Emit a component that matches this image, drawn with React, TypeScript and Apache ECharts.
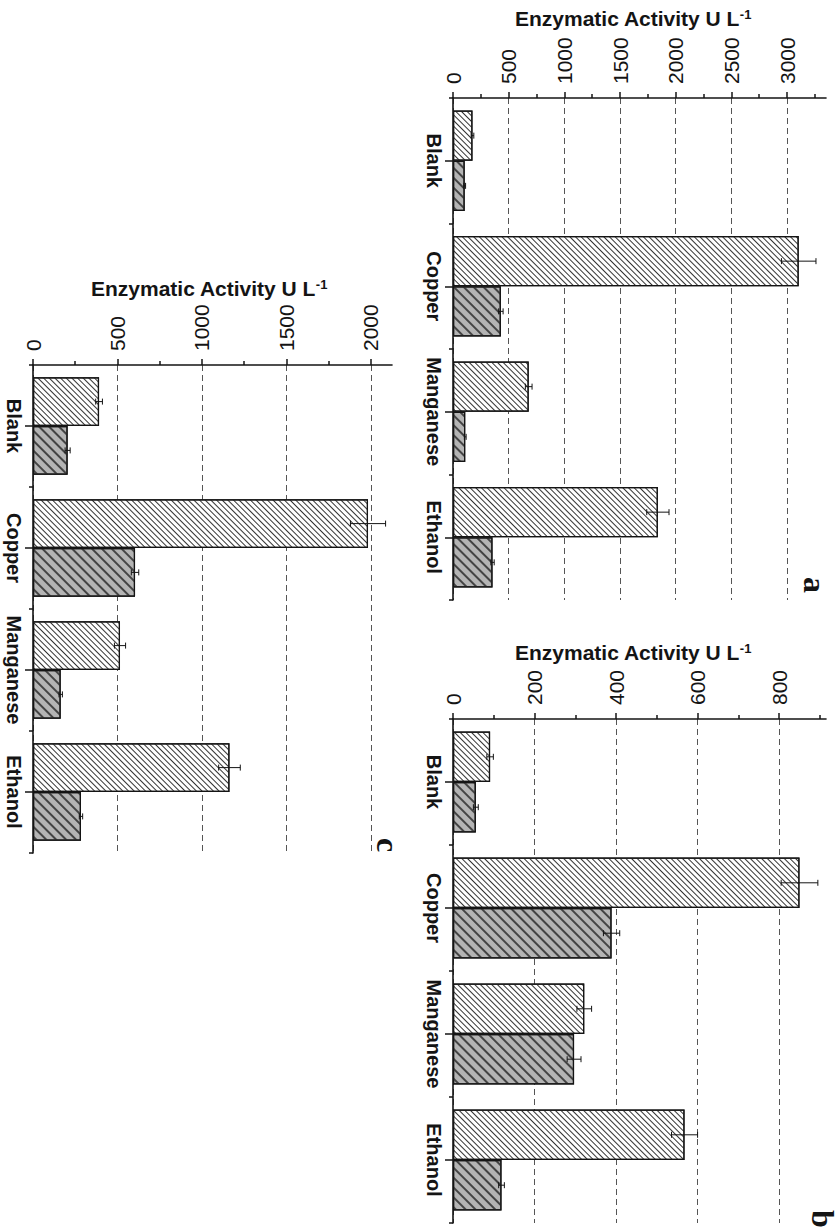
import React, { useEffect, useRef } from 'react';
import * as echarts from 'echarts';

// ---------- data ----------
const categories = ['Blank', 'Copper', 'Manganese', 'Ethanol'];

// panel a
const aLight = [175, 3105, 680, 1840];
const aLightErr = [12, 155, 30, 100];
const aDark = [105, 430, 110, 355];
const aDarkErr = [8, 20, 8, 15];
const aMajorTicks = [0, 500, 1000, 1500, 2000, 2500, 3000];
const aMinorTicks = [250, 750, 1250, 1750, 2250, 2750, 3250];

// panel b
const bLight = [91, 850, 322, 568];
const bLightErr = [8, 45, 18, 32];
const bDark = [56, 389, 297, 119];
const bDarkErr = [6, 20, 17, 7];
const bMajorTicks = [0, 200, 400, 600, 800];
const bMinorTicks = [100, 300, 500, 700, 900];

// panel c
const cLight = [391, 1983, 515, 1163];
const cLightErr = [20, 104, 33, 64];
const cDark = [205, 604, 164, 284];
const cDarkErr = [15, 22, 10, 10];
const cMajorTicks = [0, 500, 1000, 1500, 2000];
const cMinorTicks = [250, 750, 1250, 1750];

const axisTitle = 'Enzymatic Activity U L';
const axisTitleSup = '-1';

// ---------- layout ----------
const panels = [
  {
    letter: 'a', light: aLight, lightErr: aLightErr, dark: aDark, darkErr: aDarkErr,
    max: 3350, step: 500, major: aMajorTicks, minor: aMinorTicks,
    grid: { left: 453, top: 98, width: 373, height: 502 },
    titlePos: [633, 18], letterPos: [815, 585],
  },
  {
    letter: 'b', light: bLight, lightErr: bLightErr, dark: bDark, darkErr: bDarkErr,
    max: 915, step: 200, major: bMajorTicks, minor: bMinorTicks,
    grid: { left: 453, top: 719, width: 373, height: 504 },
    titlePos: [633, 652], letterPos: [823, 1219],
  },
  {
    letter: 'c', light: cLight, lightErr: cLightErr, dark: cDark, darkErr: cDarkErr,
    max: 2125, step: 500, major: cMajorTicks, minor: cMinorTicks,
    grid: { left: 33, top: 365, width: 359, height: 488 },
    titlePos: [209, 288], letterPos: [388, 845],
  },
];

const INK = '#141414';
const FONT = 'Arial, "Liberation Sans", sans-serif';

function buildOption() {
  const grid: any[] = [];
  const xAxis: any[] = [];
  const yAxis: any[] = [];
  const series: any[] = [];
  const graphic: any[] = [];

  panels.forEach((p, i) => {
    grid.push({ ...p.grid, containLabel: false });

    const xMain = xAxis.length;
    xAxis.push({
      type: 'value', gridIndex: i, position: 'top', min: 0, max: p.max, interval: p.step,
      axisLine: { show: true, lineStyle: { color: INK, width: 1.6 } },
      axisTick: { show: true, inside: false, length: 6, customValues: p.major, lineStyle: { color: INK, width: 1.5 } },
      axisLabel: {
        show: true, rotate: -90, margin: 14, customValues: p.major,
        formatter: (v: number) => String(Math.round(v)),
        color: INK, fontSize: 21, fontFamily: FONT,
      },
      splitLine: { show: true, lineStyle: { color: '#555', width: 1, type: [6, 4] } },
    });
    xAxis.push({
      type: 'value', gridIndex: i, position: 'top', min: 0, max: p.max, interval: p.step / 2,
      axisLine: { show: false },
      axisTick: { show: true, inside: false, length: 4, customValues: p.minor, lineStyle: { color: INK, width: 1.5 } },
      axisLabel: { show: false },
      splitLine: { show: false },
    });

    const yMain = yAxis.length;
    yAxis.push({
      type: 'category', gridIndex: i, data: categories, inverse: true, position: 'left',
      axisLine: { show: true, onZero: false, lineStyle: { color: INK, width: 1.6 } },
      axisTick: { show: true, alignWithLabel: true, length: 8, lineStyle: { color: INK, width: 1.5 } },
      axisLabel: {
        show: true, interval: 0, rotate: -90, margin: 9, color: INK, fontSize: 20,
        fontWeight: 'bold', fontFamily: FONT, hideOverlap: false,
      },
      splitLine: { show: false },
    });
    yAxis.push({
      type: 'category', gridIndex: i, data: categories, inverse: true, position: 'left',
      axisLine: { show: false, onZero: false },
      axisTick: { show: true, interval: 0, alignWithLabel: false, length: 4, lineStyle: { color: INK, width: 1.5 } },
      axisLabel: { show: false },
      splitLine: { show: false },
    });

    series.push({
      type: 'bar', xAxisIndex: xMain, yAxisIndex: yMain, data: p.light,
      barWidth: '40%', barGap: '0%', z: 3,
      itemStyle: {
        color: '#ffffff', borderColor: INK, borderWidth: 1.2,
        decal: { symbol: 'rect', symbolSize: 1, color: '#333', dashArrayX: [1, 0], dashArrayY: [1, 3], rotation: Math.PI / 4 },
      },
    });
    series.push({
      type: 'bar', xAxisIndex: xMain, yAxisIndex: yMain, data: p.dark,
      barWidth: '40%', barGap: '0%', z: 3,
      itemStyle: {
        color: '#b4b4b4', borderColor: INK, borderWidth: 1.2,
        decal: { symbol: 'rect', symbolSize: 1, color: '#444', dashArrayX: [1, 0], dashArrayY: [2, 5], rotation: Math.PI / 4 },
      },
    });

    const makeErr = (vals: number[], errs: number[], sign: number) => ({
      type: 'custom', xAxisIndex: xMain, yAxisIndex: yMain, z: 6,
      data: vals.map((v, k) => [k, v, errs[k]]),
      encode: { x: 1, y: 0 },
      renderItem: (_params: any, api: any) => {
        const k = api.value(0);
        const v = api.value(1);
        const e = api.value(2);
        const band = api.size([0, 1])[1];
        const c = api.coord([v, k]);
        const y = c[1] + sign * band * 0.2;
        const x1 = api.coord([v - e, k])[0];
        const x2 = api.coord([v + e, k])[0];
        const h = 3;
        const st = { stroke: INK, lineWidth: 1 };
        return {
          type: 'group',
          children: [
            { type: 'line', shape: { x1, y1: y, x2, y2: y }, style: st },
            { type: 'line', shape: { x1, y1: y - h, x2: x1, y2: y + h }, style: st },
            { type: 'line', shape: { x1: x2, y1: y - h, x2, y2: y + h }, style: st },
          ],
        };
      },
    });
    series.push(makeErr(p.light, p.lightErr, -1));
    series.push(makeErr(p.dark, p.darkErr, 1));

    graphic.push({
      type: 'text', x: p.titlePos[0], y: p.titlePos[1], z: 10,
      style: {
        text: `{m|${axisTitle}}{s|${axisTitleSup}}`,
        rich: {
          m: { fontSize: 21, fontWeight: 'bold', fontFamily: FONT, fill: INK },
          s: { fontSize: 13, fontWeight: 'bold', fontFamily: FONT, fill: INK, verticalAlign: 'top' },
        },
        align: 'center', verticalAlign: 'middle', textAlign: 'center', textVerticalAlign: 'middle',
        fill: INK,
      },
    });
    graphic.push({
      type: 'text', x: p.letterPos[0], y: p.letterPos[1], rotation: -Math.PI / 2, z: 10,
      style: {
        text: p.letter, font: 'bold 32px "Liberation Serif", "Times New Roman", serif', fill: INK,
        align: 'center', verticalAlign: 'middle', textAlign: 'center', textVerticalAlign: 'middle',
      },
    });
  });

  return {
    animation: false,
    backgroundColor: '#ffffff',
    grid, xAxis, yAxis, series, graphic,
  };
}

export default function App() {
  const ref = useRef<HTMLDivElement>(null);
  useEffect(() => {
    if (!ref.current) return;
    const chart = echarts.init(ref.current, null, { renderer: 'svg', width: 840, height: 1232 });
    chart.setOption(buildOption() as any);
    return () => chart.dispose();
  }, []);
  return (
    <div
      ref={ref}
      style={{ position: 'absolute', left: 0, top: 0, width: 840, height: 1232, background: '#fff' }}
    />
  );
}
